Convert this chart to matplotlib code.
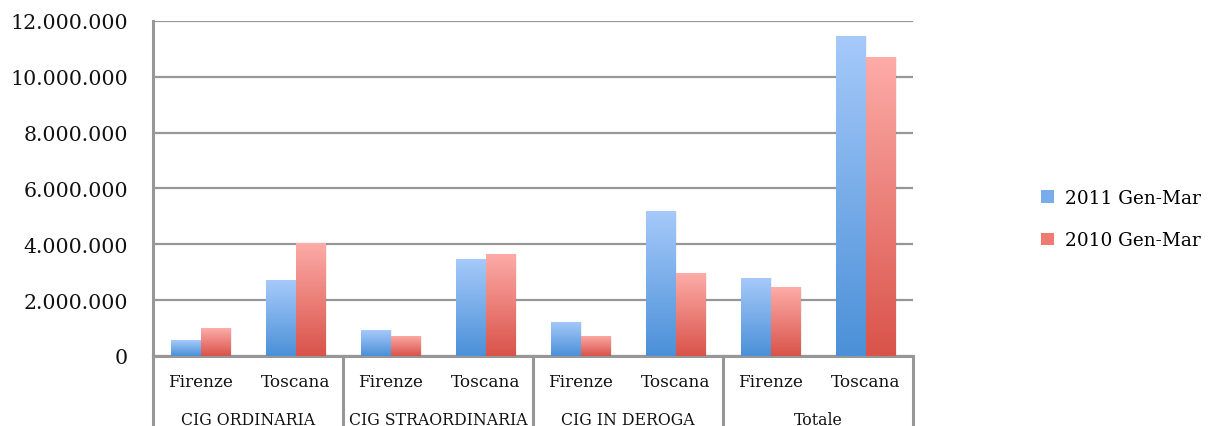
import numpy as np
import matplotlib
matplotlib.use("Agg")
import matplotlib.pyplot as plt
from matplotlib.colors import LinearSegmentedColormap
from matplotlib.patches import Patch
from matplotlib.lines import Line2D
import matplotlib.transforms as mtransforms

# --- data -------------------------------------------------------------
groups = ["CIG ORDINARIA", "CIG STRAORDINARIA", "CIG IN DEROGA", "Totale"]
areas = ["Firenze", "Toscana"]
series_names = ["2011 Gen-Mar", "2010 Gen-Mar"]
values_2011 = [570000, 2720000, 930000, 3480000, 1220000, 5200000, 2800000, 11470000]
values_2010 = [1000000, 4050000, 720000, 3660000, 720000, 2970000, 2470000, 10720000]
y_ticks = [0, 2000000, 4000000, 6000000, 8000000, 10000000, 12000000]

# --- style ------------------------------------------------------------
FONT = "DejaVu Serif"
plt.rcParams["font.family"] = FONT
GRID = "#979797"
TEXT = "#111111"
blue_cmap = LinearSegmentedColormap.from_list("b", ["#4b90d8", "#a6cafa"])
red_cmap = LinearSegmentedColormap.from_list("r", ["#d9534a", "#fdaca8"])

fig = plt.figure(figsize=(12.13, 4.27), dpi=100)
W, H = 1213, 427
left, right, top, bottom = 153, 913, 22, 357
ax = fig.add_axes([left / W, 1 - bottom / H, (right - left) / W, (bottom - top) / H])

n = len(values_2011)
x = np.arange(n)
bw = 0.31
ymax = 12000000


def gradient_bars(xs, vals, cmap):
    bars = ax.bar(xs, vals, bw, facecolor="none", edgecolor="none", zorder=3)
    grad = np.linspace(0, 1, 256).reshape(-1, 1)
    for b in bars:
        x0, y0 = b.get_x(), b.get_y()
        w, h = b.get_width(), b.get_height()
        # soft drop shadow to the right
        ax.add_patch(plt.Rectangle((x0 + 0.02, y0), w, h, facecolor="#000000",
                                   alpha=0.06, edgecolor="none", zorder=2))
        im = ax.imshow(grad, cmap=cmap, origin="lower", aspect="auto",
                       extent=(x0, x0 + w, y0, y0 + h), zorder=3,
                       interpolation="bilinear")
        im.set_clip_path(b)
    return bars


gradient_bars(x - bw / 2, values_2011, blue_cmap)
gradient_bars(x + bw / 2, values_2010, red_cmap)

ax.set_xlim(-0.5, n - 0.5)
ax.set_ylim(0, ymax)
ax.set_yticks(y_ticks)
ax.set_yticklabels([f"{v:,}".replace(",", ".") for v in y_ticks],
                   fontsize=14.8, color=TEXT)
ax.tick_params(axis="y", length=0, pad=18)
ax.set_xticks([])
ax.yaxis.grid(True, color=GRID, linewidth=1.6, zorder=0)
ax.set_axisbelow(True)
for s in ["top", "right"]:
    ax.spines[s].set_visible(False)
ax.spines["left"].set_color(GRID)
ax.spines["left"].set_linewidth(2.2)
ax.spines["bottom"].set_color(GRID)
ax.spines["bottom"].set_linewidth(2.2)

# --- two-level category axis -------------------------------------------
trans = mtransforms.blended_transform_factory(ax.transData, ax.transAxes)
for i in range(n):
    ax.text(x[i], -0.075, areas[i % 2], transform=trans, ha="center",
            va="center", fontsize=12.2, color=TEXT)
for g, name in enumerate(groups):
    ax.text(2 * g + 0.5, -0.19, name, transform=trans, ha="center",
            va="center", fontsize=11.3, color=TEXT)
for b in np.arange(-0.5, n, 2.0):
    ax.add_line(Line2D([b, b], [0, -0.22], transform=trans, color=GRID,
                       linewidth=2.2, clip_on=False))

# --- legend ------------------------------------------------------------
handles = [Patch(facecolor="#78acea", edgecolor="none"),
           Patch(facecolor="#ee7a72", edgecolor="none")]
fig.legend(handles, series_names, loc="center left",
           bbox_to_anchor=(1024 / W, 1 - 220 / H), frameon=False,
           fontsize=13.3, handlelength=0.7, handleheight=0.7,
           handletextpad=0.6, labelspacing=1.35)

fig.savefig("out.png", dpi=100)
